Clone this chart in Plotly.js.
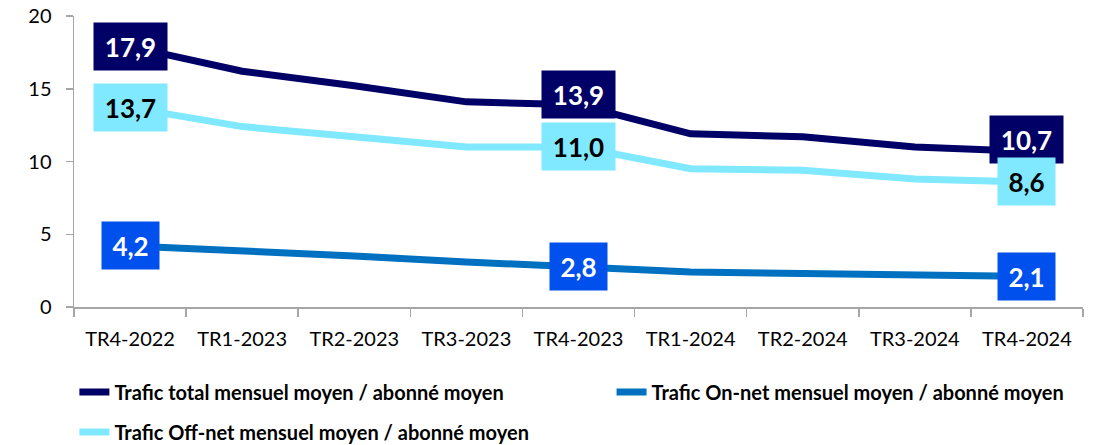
<!DOCTYPE html>
<html>
<head>
<meta charset="utf-8">
<script src="https://cdn.plot.ly/plotly-3.0.1.min.js"></script>
<style>html,body{margin:0;padding:0;background:#fff;}#chart{width:1094px;height:445px;}</style>
</head>
<body>
<div id="chart"></div>
<script>
const categories = ["TR4-2022","TR1-2023","TR2-2023","TR3-2023","TR4-2023","TR1-2024","TR2-2024","TR3-2024","TR4-2024"];
const totalValues = [17.9, 16.2, 15.2, 14.1, 13.9, 11.9, 11.7, 11.0, 10.7];
const onNetValues = [4.2, 3.9, 3.5, 3.1, 2.8, 2.4, 2.3, 2.2, 2.1];
const offNetValues = [13.7, 12.4, 11.7, 11.0, 11.0, 9.5, 9.4, 8.8, 8.6];
const seriesNames = [
  "Trafic total mensuel moyen / abonné moyen",
  "Trafic On-net mensuel moyen / abonné moyen",
  "Trafic Off-net mensuel moyen / abonné moyen"
];
const labelledIndices = [0, 4, 8];
const yTicks = [0, 5, 10, 15, 20];

const colTotal = "#000066", colOn = "#0070C0", colOff = "#80E8FF";
const bgOn = "#0050EE";
const FONT = "Lato, 'Open Sans', sans-serif";

const traces = [
  {x: categories, y: offNetValues, name: seriesNames[2], type: "scatter", mode: "lines",
   line: {color: colOff, width: 7}, legend: "legend3"},
  {x: categories, y: onNetValues, name: seriesNames[1], type: "scatter", mode: "lines",
   line: {color: colOn, width: 7}, legend: "legend2"},
  {x: categories, y: totalValues, name: seriesNames[0], type: "scatter", mode: "lines",
   line: {color: colTotal, width: 7}, legend: "legend"}
];

function fmt(v){ return v.toFixed(1).replace(".", ","); }

const annotations = [];
const specs = [
  {vals: totalValues, bg: colTotal, fg: "#FFFFFF", shift: i => (i === 4 ? 10 : (i === 8 ? 12 : 0))},
  {vals: offNetValues, bg: colOff, fg: "#000000", shift: i => 0},
  {vals: onNetValues, bg: bgOn, fg: "#FFFFFF", shift: i => 0}
];
specs.forEach(s => {
  labelledIndices.forEach(i => {
    const t = fmt(s.vals[i]);
    annotations.push({
      x: categories[i], y: s.vals[i], xref: "x", yref: "y",
      text: "<b>" + t + "</b>",
      showarrow: false, bgcolor: s.bg, borderpad: 7,
      width: t.length >= 4 ? 59 : 43, height: 33,
      font: {family: FONT, size: 26, color: s.fg},
      yshift: s.shift(i)
    });
  });
});

const legendFont = {family: FONT, size: 20, color: "#000000", weight: "bold"};
function legendAt(x, y){
  return {orientation: "h", xref: "container", yref: "container",
          x: x, xanchor: "left", y: y, yanchor: "middle",
          font: legendFont, bgcolor: "rgba(0,0,0,0)", borderwidth: 0};
}

const layout = {
  width: 1094, height: 445,
  margin: {l: 74, r: 11, t: 16, b: 138, autoexpand: false},
  paper_bgcolor: "#FFFFFF", plot_bgcolor: "#FFFFFF",
  showlegend: true,
  font: {family: FONT, color: "#000000"},
  xaxis: {
    type: "category", range: [-0.5, 8.5],
    tickson: "boundaries", ticks: "outside", ticklen: 8, tickcolor: "#A6A6A6", tickwidth: 1.5,
    showline: true, linecolor: "#A6A6A6", linewidth: 1.5,
    showgrid: false, zeroline: false, ticklabelstandoff: 13,
    tickfont: {family: FONT, size: 20, color: "#000000"}
  },
  yaxis: {
    range: [0, 20], tickvals: yTicks, ticktext: yTicks.map(String),
    ticks: "outside", ticklen: 7, tickcolor: "#A6A6A6", tickwidth: 1.5,
    showline: true, linecolor: "#A6A6A6", linewidth: 1.5,
    showgrid: false, zeroline: false, ticklabelstandoff: 10,
    tickfont: {family: FONT, size: 20, color: "#000000"}
  },
  legend: legendAt(0.068, 0.119),
  legend2: legendAt(0.559, 0.119),
  legend3: legendAt(0.068, 0.029),
  annotations: annotations
};

Plotly.newPlot("chart", traces, layout, {displayModeBar: false, staticPlot: true});
</script>
</body>
</html>
